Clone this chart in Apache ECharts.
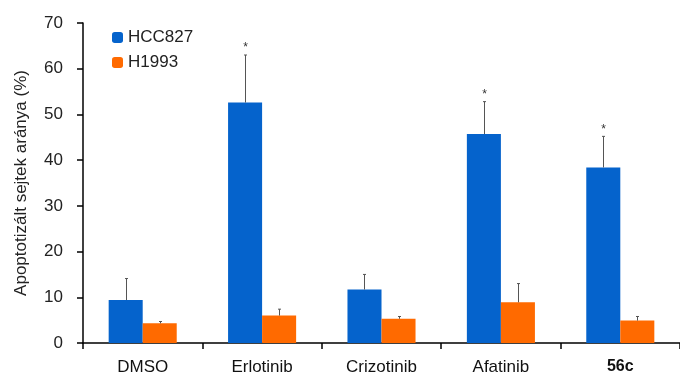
<!DOCTYPE html>
<html>
<head>
<meta charset="utf-8">
<script src="https://cdn.jsdelivr.net/npm/echarts@6/dist/echarts.min.js"></script>
<style>
  html, body { margin: 0; padding: 0; background: #fff; }
  #chart { width: 680px; height: 376px; }
</style>
</head>
<body>
<div id="chart"></div>
<script>
// adatok
var categories = ["DMSO", "Erlotinib", "Crizotinib", "Afatinib", "56c"];
var hccMean = [9.4, 52.6, 11.7, 45.7, 38.4];
var hccSd = [4.7, 10.4, 3.3, 7.1, 6.8];
var h1993Mean = [4.3, 6.0, 5.3, 8.9, 4.9];
var h1993Sd = [0.4, 1.4, 0.5, 4.1, 0.9];
var hccStar = [false, true, false, true, true];
var yTicks = [0, 10, 20, 30, 40, 50, 60, 70];

var blue = "#0563CC";
var orange = "#FF6A00";
var font = "Liberation Sans";

// hibavonalak: bar szélesség = 0.285 * sávszélesség
function errorSeries(means, sds, stars, side) {
  var data = means.map(function (m, i) { return [i, m, m + sds[i], stars ? stars[i] : false]; });
  return {
    type: "custom",
    silent: true,
    z: 5,
    data: data,
    renderItem: function (params, api) {
      var i = api.value(0);
      var band = api.size([1, 0])[0];
      var off = side * band * 0.1425;
      var base = api.coord([i, api.value(1)]);
      var top = api.coord([i, api.value(2)]);
      var x = Math.round(base[0] + off) + 0.5;
      var children = [
        { type: "line", shape: { x1: x, y1: base[1], x2: x, y2: top[1] }, style: { stroke: "#555", lineWidth: 1 } },
        { type: "line", shape: { x1: x - 1.5, y1: top[1], x2: x + 1.5, y2: top[1] }, style: { stroke: "#555", lineWidth: 1 } }
      ];
      if (data[params.dataIndex][3]) {
        children.push({
          type: "text",
          style: { text: "*", x: x, y: top[1] - 7, align: "center", verticalAlign: "middle", font: "12px " + font, fill: "#333" }
        });
      }
      return { type: "group", children: children };
    }
  };
}

var myChart = echarts.init(document.getElementById("chart"));
var option = {
  animation: false,
  grid: { left: 83, top: 23, width: 605, height: 320 },
  legend: {
    orient: "vertical",
    left: 107,
    top: 24,
    itemWidth: 11,
    itemHeight: 11,
    itemGap: 8,
    data: ["HCC827", "H1993"],
    textStyle: { fontFamily: font, fontSize: 17, color: "#222" }
  },
  xAxis: {
    type: "category",
    data: categories,
    axisLine: { lineStyle: { color: "#000", width: 1.5 } },
    axisTick: { show: true, length: 6, lineStyle: { color: "#000", width: 1.5 } },
    axisLabel: {
      margin: 16,
      fontFamily: font,
      fontSize: 17,
      color: "#111",
      formatter: function (v) { return v === "56c" ? "{b|" + v + "}" : v; },
      rich: { b: { fontFamily: font, fontSize: 16, fontWeight: "bold", color: "#111" } }
    }
  },
  yAxis: {
    type: "value",
    min: 0,
    max: 70,
    interval: 10,
    name: "Apoptotizált sejtek aránya (%)",
    nameLocation: "middle",
    nameGap: 53,
    nameTextStyle: { fontFamily: font, fontSize: 17, color: "#222" },
    axisLine: { show: true, lineStyle: { color: "#000", width: 1.5 } },
    axisTick: { show: true, length: 6, lineStyle: { color: "#000", width: 1.5 } },
    splitLine: { show: false },
    axisLabel: {
      margin: 20,
      fontFamily: font,
      fontSize: 17,
      color: "#222",
      formatter: function (v) { return yTicks.indexOf(v) >= 0 ? String(v) : ""; }
    }
  },
  series: [
    {
      name: "HCC827",
      type: "bar",
      data: hccMean,
      barGap: "0%",
      barCategoryGap: "43%",
      itemStyle: { color: blue }
    },
    {
      name: "H1993",
      type: "bar",
      data: h1993Mean,
      itemStyle: { color: orange }
    },
    errorSeries(hccMean, hccSd, hccStar, -1),
    errorSeries(h1993Mean, h1993Sd, null, 1)
  ]
};
myChart.setOption(option);
</script>
</body>
</html>
